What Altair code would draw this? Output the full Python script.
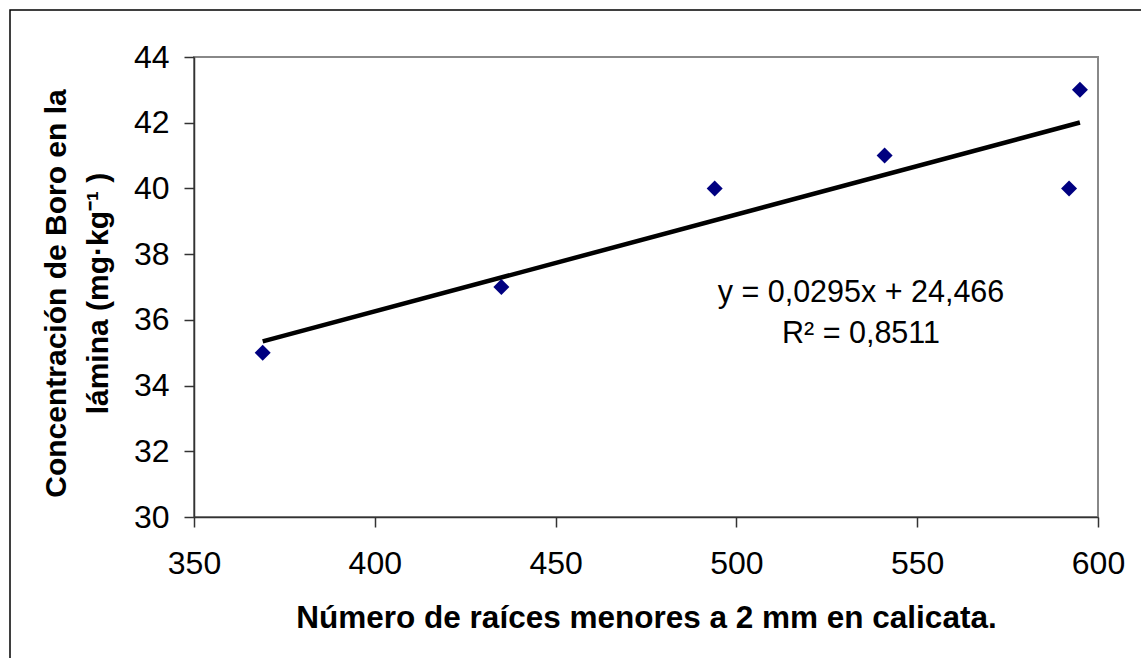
import altair as alt
import pandas as pd

# Data
raices = [369, 435, 494, 541, 592, 595]
boro = [35, 37, 40, 41, 40, 43]
x_ticks = [350, 400, 450, 500, 550, 600]
y_ticks = [30, 32, 34, 36, 38, 40, 42, 44]
eq_lines = ["y = 0,0295x + 24,466", "R² = 0,8511"]
x_title = "Número de raíces menores a 2 mm en calicata."
y_title = ["Concentración de Boro en la", "lámina (mg·kg⁻¹ )"]

df = pd.DataFrame({"x": raices, "y": boro})
FONT = "Liberation Sans"

xscale = alt.Scale(domain=[350, 600], nice=False, zero=False)
yscale = alt.Scale(domain=[30, 44], nice=False, zero=False)

base = alt.Chart(df)

points = base.mark_point(shape="diamond", filled=True, size=256, color="#000080", opacity=1).encode(
    x=alt.X("x:Q", scale=xscale, title=x_title,
            axis=alt.Axis(values=x_ticks, grid=False, tickSize=10, labelPadding=21,
                          labelFontSize=32, labelFont=FONT, labelColor="black",
                          titleFontSize=31.5, titleFont=FONT, titleFontWeight="bold",
                          titleColor="black", titleBaseline="alphabetic", titleY=110,
                          domainColor="#333333", domainWidth=1.5, tickColor="#333333",
                          tickWidth=1.5, labelFlush=False)),
    y=alt.Y("y:Q", scale=yscale, title=y_title,
            axis=alt.Axis(values=y_ticks, grid=False, tickSize=10, labelPadding=15,
                          labelFontSize=32, labelFont=FONT, labelColor="black",
                          titleFontSize=30, titleFont=FONT, titleFontWeight="bold",
                          titleColor="black", titleAngle=270, titleAlign="center",
                          titleBaseline="alphabetic", titleX=-129, titleY=236,
                          titleLineHeight=42,
                          domainColor="#333333", domainWidth=1.5, tickColor="#333333",
                          tickWidth=1.5, labelFlush=False)),
)

trend = base.transform_regression("x", "y").mark_line(color="black", strokeWidth=4.5).encode(
    x=alt.X("x:Q", scale=xscale),
    y=alt.Y("y:Q", scale=yscale),
)

eq1 = alt.Chart(pd.DataFrame({"t": [eq_lines[0]]})).mark_text(
    fontSize=30.5, font=FONT, color="black", align="center", baseline="middle"
).encode(x=alt.value(667), y=alt.value(236), text="t:N")

eq2 = alt.Chart(pd.DataFrame({"t": [eq_lines[1]]})).mark_text(
    fontSize=30.5, font=FONT, color="black", align="center", baseline="middle"
).encode(x=alt.value(667), y=alt.value(277), text="t:N")

frame = alt.Chart(pd.DataFrame({"a": [0]})).mark_rect(
    fillOpacity=0, stroke="black", strokeWidth=1.5
).encode(x=alt.value(-184), x2=alt.value(1000), y=alt.value(-47), y2=alt.value(700))

chart = alt.layer(frame, trend, points, eq1, eq2).properties(
    width=904, height=460,
    padding={"left": 194, "top": 57, "right": 43, "bottom": 141},
    autosize=alt.AutoSizeParams(type="none"),
    background="white",
).configure_view(stroke="#888888", strokeWidth=2)

chart.save("out.html", embed_options={"renderer": "svg", "actions": False})
